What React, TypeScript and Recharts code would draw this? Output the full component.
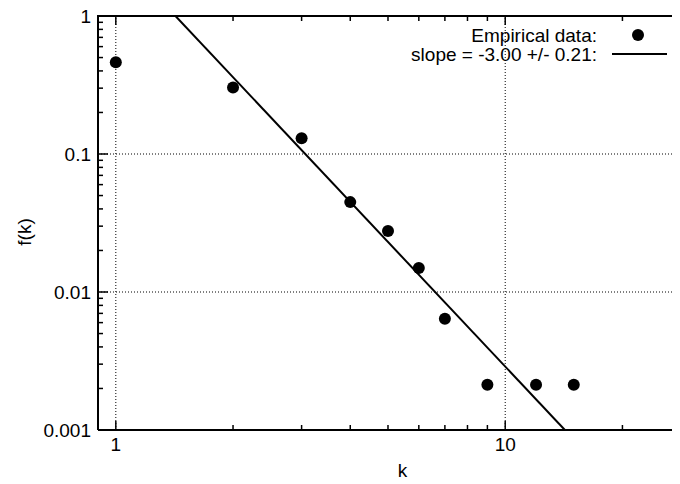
import React from 'react';
import {
  ReferenceLine,
  Scatter,
  ScatterChart,
  XAxis,
  YAxis,
} from 'recharts';

const empK = [1, 2, 3, 4, 5, 6, 7, 9, 12, 15];
const empF = [0.463, 0.303, 0.13, 0.0448, 0.0277, 0.0149, 0.0064, 0.00213, 0.00213, 0.00213];

// power-law fit, slope -3 (end points where it leaves the frame)
const fitK = [1.423, 14.23];
const fitF = [1, 0.001];

const xTicks = [1, 2, 3, 4, 5, 6, 7, 8, 9, 10, 20];
const xMajor = [1, 10];
const yTicks = [
  0.001, 0.002, 0.003, 0.004, 0.005, 0.006, 0.007, 0.008, 0.009,
  0.01, 0.02, 0.03, 0.04, 0.05, 0.06, 0.07, 0.08, 0.09,
  0.1, 0.2, 0.3, 0.4, 0.5, 0.6, 0.7, 0.8, 0.9, 1,
];
const yMajor = [0.001, 0.01, 0.1, 1];
const yLabels = ['0.001', '0.01', '0.1', '1'];

const empData = empK.map((k, i) => ({ k, f: empF[i] }));
const fitData = fitK.map((k, i) => ({ k, f: fitF[i] }));

const FONT = '"Liberation Sans", Arial, Helvetica, sans-serif';
const FS = 19;
const PLOT_TOP = 16;
const PLOT_LEFT = 98;

const BottomTick = (props: any) => {
  const { x, y, payload } = props;
  const major = xMajor.includes(payload.value);
  return (
    <g>
      <line x1={x} x2={x} y1={y} y2={y - (major ? 9 : 5)} stroke="#000" strokeWidth={1.5} />
      {major && (
        <text x={x} y={y + 21} textAnchor="middle" fontFamily={FONT} fontSize={FS} fill="#000">
          {payload.value}
        </text>
      )}
    </g>
  );
};

// mirrored tick on the top frame, drawn from a vertical reference line
const topTickShape = (len: number) => (props: any) => {
  const x = props.x1 ?? props.x2;
  const top = Math.min(props.y1 ?? PLOT_TOP, props.y2 ?? PLOT_TOP);
  if (!Number.isFinite(x) || !Number.isFinite(top)) return <g />;
  return <line x1={x} x2={x} y1={top} y2={top + len} stroke="#000" strokeWidth={1.5} />;
};

const LeftTick = (props: any) => {
  const { x, y, payload } = props;
  const idx = yMajor.indexOf(payload.value);
  const major = idx >= 0;
  return (
    <g>
      <line x1={x} x2={x + (major ? 10 : 5)} y1={y} y2={y} stroke="#000" strokeWidth={1.5} />
      {major && (
        <text x={x - 7} y={y} dy="0.36em" textAnchor="end" fontFamily={FONT} fontSize={FS} fill="#000">
          {yLabels[idx]}
        </text>
      )}
    </g>
  );
};

const XLabel = (props: any) => {
  const vb = props.viewBox;
  return (
    <text x={vb.x + vb.width / 2 + 8} y={vb.y + vb.height - 7} textAnchor="middle" fontFamily={FONT} fontSize={FS} fill="#000">
      k
    </text>
  );
};

const YLabel = (props: any) => {
  const vb = props.viewBox;
  const cy = vb.y + vb.height / 2 + 9;
  return (
    <text x={31} y={cy} textAnchor="middle" transform={`rotate(-90, 31, ${cy})`} fontFamily={FONT} fontSize={FS} fill="#000">
      f(k)
    </text>
  );
};

const Dot = (props: any) => <circle cx={props.cx} cy={props.cy} r={6} fill="#000" />;
const NoDot = () => <g />;

const grid = { stroke: '#000', strokeWidth: 1, strokeDasharray: '1 2' };

export default function App() {
  return (
    <div style={{ width: 680, height: 484, overflow: 'hidden', margin: '-8px 0 0 -8px', position: 'relative', background: '#fff' }}>
      <ScatterChart width={700} height={484} margin={{ top: PLOT_TOP, right: 9, bottom: 0, left: 0 }}>
        <XAxis
          type="number"
          dataKey="k"
          scale="log"
          domain={[0.9, 30]}
          allowDataOverflow
          ticks={xTicks}
          interval={0}
          height={54}
          tickSize={0}
          tickMargin={0}
          tickLine={false}
          tick={<BottomTick />}
          axisLine={{ stroke: '#000', strokeWidth: 2 }}
          label={<XLabel />}
        />
        <YAxis
          type="number"
          dataKey="f"
          scale="log"
          domain={[0.001, 1]}
          allowDataOverflow
          ticks={yTicks}
          interval={0}
          width={PLOT_LEFT}
          tickSize={0}
          tickMargin={0}
          tickLine={false}
          tick={<LeftTick />}
          axisLine={{ stroke: '#000', strokeWidth: 2 }}
          label={<YLabel />}
        />
        <ReferenceLine x={1} {...grid} />
        <ReferenceLine x={10} {...grid} />
        <ReferenceLine y={0.1} {...grid} />
        <ReferenceLine y={0.01} {...grid} />
        {xTicks.map((t) => (
          <ReferenceLine key={t} x={t} ifOverflow="visible" shape={topTickShape(xMajor.includes(t) ? 9 : 5)} />
        ))}
        <Scatter
          data={fitData}
          line={{ stroke: '#000', strokeWidth: 2 }}
          shape={<NoDot />}
          isAnimationActive={false}
        />
        <Scatter data={empData} shape={<Dot />} isAnimationActive={false} />
      </ScatterChart>
      <svg width={680} height={80} style={{ position: 'absolute', left: 0, top: 0, pointerEvents: 'none' }}>
        {/* top edge of the plot frame */}
        <line x1={PLOT_LEFT - 1} x2={680} y1={PLOT_TOP} y2={PLOT_TOP} stroke="#000" strokeWidth={2} />
        <text x={597} y={35} dy="0.36em" textAnchor="end" fontFamily={FONT} fontSize={FS} fill="#000">
          Empirical data:
        </text>
        <circle cx={638} cy={35} r={6} fill="#000" />
        <text x={597} y={54} dy="0.36em" textAnchor="end" fontFamily={FONT} fontSize={FS} fill="#000">
          slope = -3.00 +/- 0.21:
        </text>
        <line x1={612} x2={667} y1={54} y2={54} stroke="#000" strokeWidth={2} />
      </svg>
    </div>
  );
}
